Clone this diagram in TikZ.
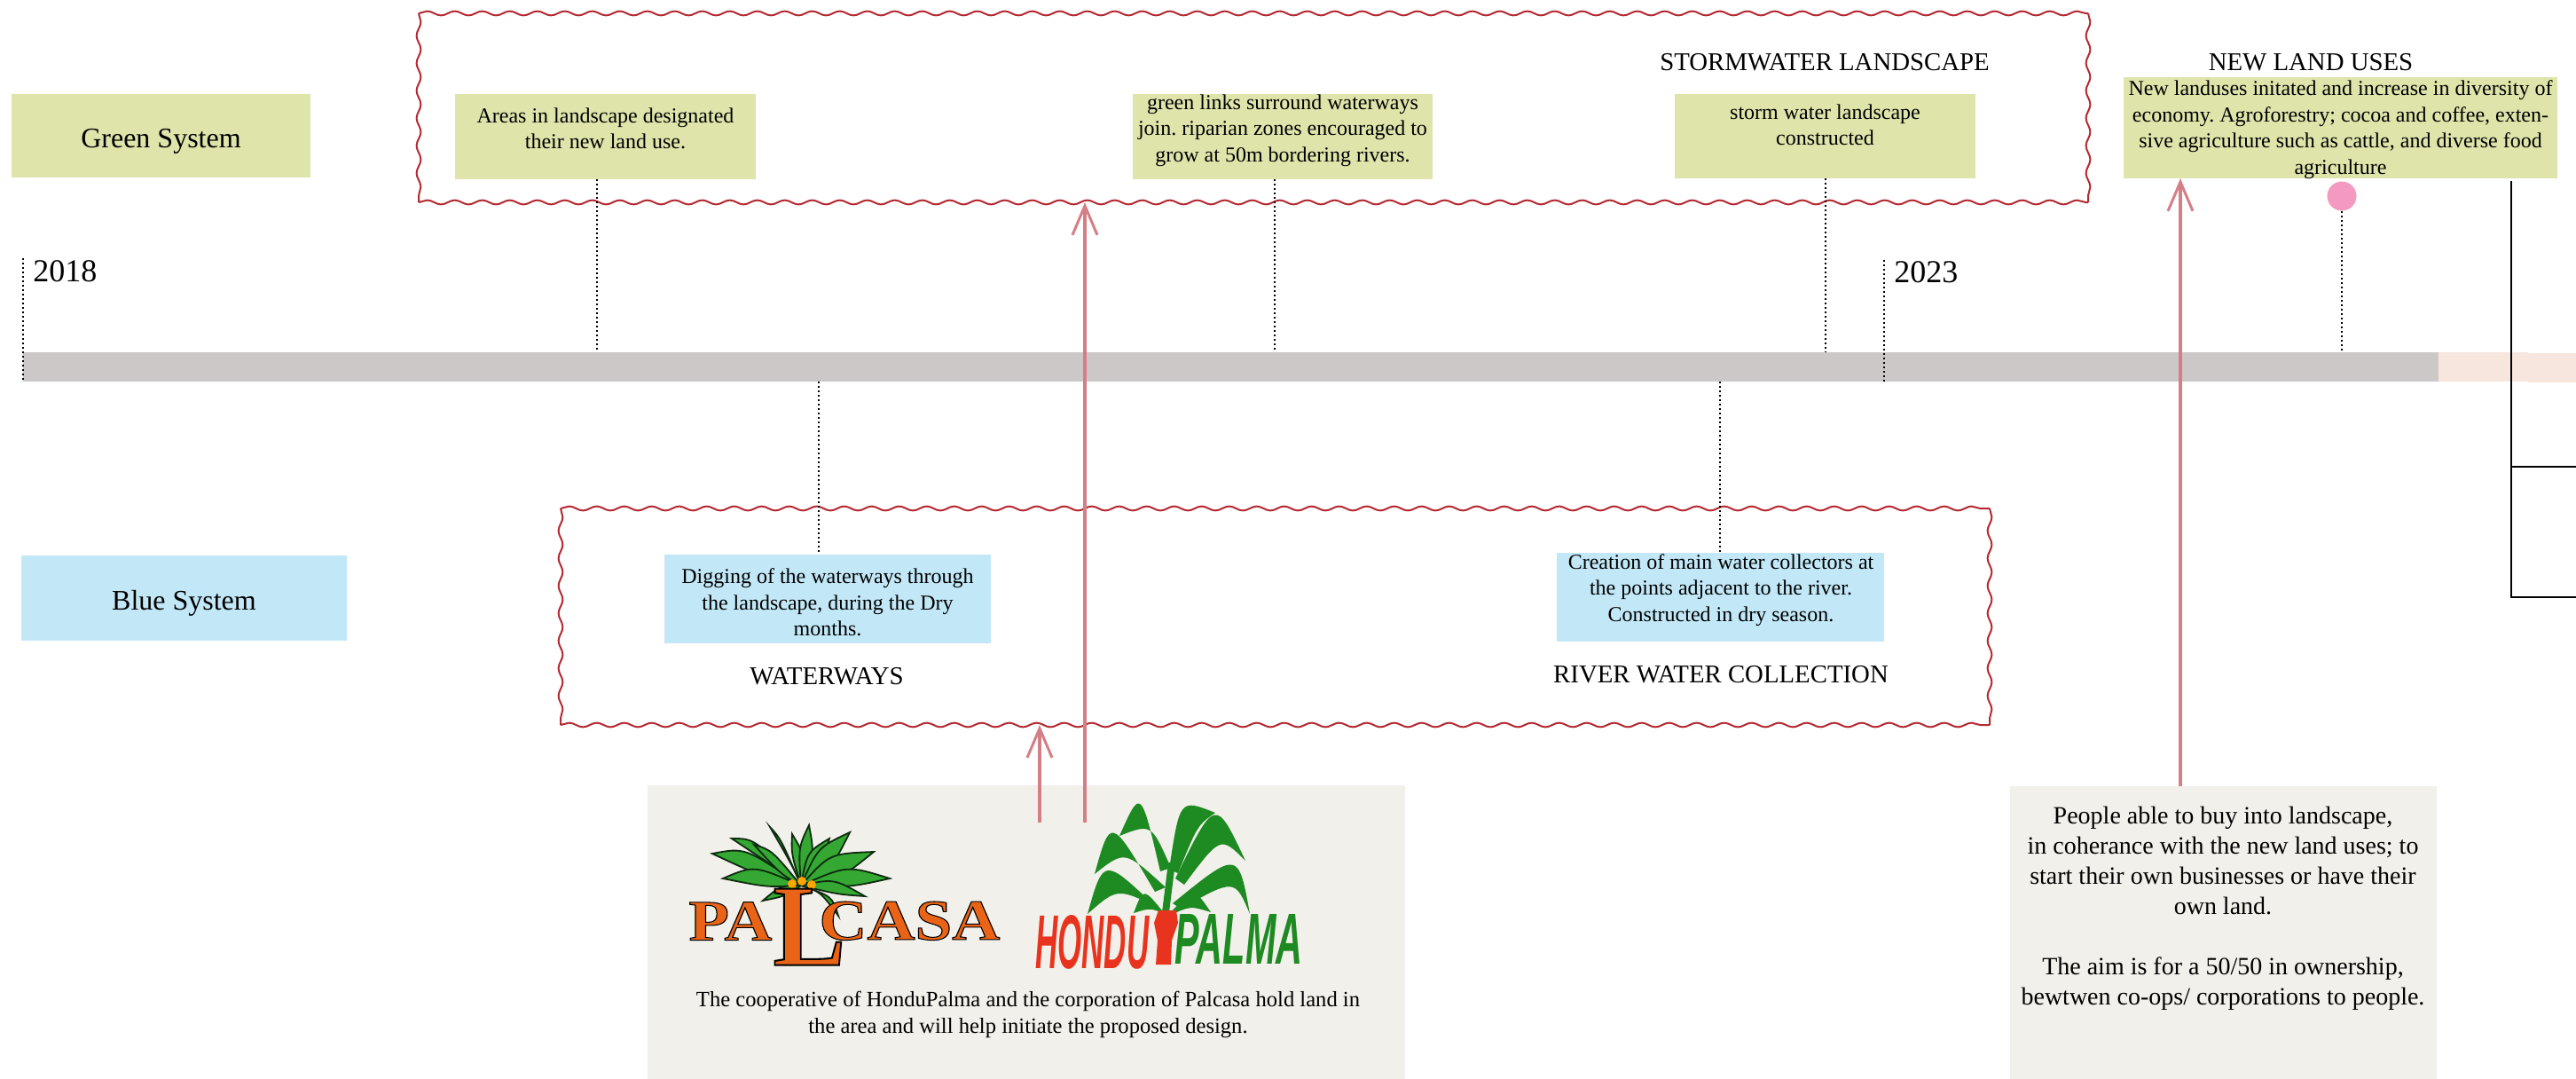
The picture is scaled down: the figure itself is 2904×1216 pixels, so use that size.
\documentclass[tikz,border=0pt]{standalone}
\usepackage{fontspec}
\setmainfont{Liberation Serif}
\newfontfamily\logosans{Liberation Sans}
\usetikzlibrary{decorations.pathmorphing,arrows.meta}
\definecolor{gfill}{HTML}{DFE4AA}
\definecolor{bfill}{HTML}{C2E8F8}
\definecolor{grayfill}{HTML}{F1F0EA}
\definecolor{barg}{HTML}{CDC8C8}
\definecolor{barp}{HTML}{F7E6DE}
\definecolor{wavy}{HTML}{B52A32}
\definecolor{arrowred}{HTML}{D47F86}
\definecolor{pinkdot}{HTML}{F49AC1}
\definecolor{palorange}{HTML}{EA6418}
\definecolor{palleaf}{HTML}{34A832}
\definecolor{palleafdark}{HTML}{0E2A10}
\definecolor{hpgreen}{HTML}{1E8A22}
\definecolor{hpred}{HTML}{E8341E}
\newcommand\outlinedword[1]{\special{pdf:literal direct 2 Tr 0.5 w 0 0 0 RG}#1\special{pdf:literal direct 0 Tr}}
\frenchspacing
\begin{document}
\begin{tikzpicture}[x=0.5pt,y=-0.5pt,
  gbox/.style={fill=gfill,inner sep=0pt,outer sep=0pt},
  bbox/.style={fill=bfill,inner sep=0pt,outer sep=0pt},
  greybox/.style={fill=grayfill,inner sep=0pt,outer sep=0pt},
  bodytext/.style={inner sep=0pt,align=center,font=\fontsize{12pt}{14.75pt}\selectfont},
  headtext/.style={inner sep=0pt,font=\fontsize{14.4pt}{17pt}\selectfont},
  systext/.style={inner sep=0pt,font=\fontsize{16pt}{19pt}\selectfont},
  yeartext/.style={inner sep=0pt,anchor=west,font=\fontsize{18pt}{21pt}\selectfont},
  logotext/.style={anchor=south west,inner sep=0pt,text=palorange,font=\fontsize{32pt}{32pt}\selectfont\bfseries},
  wavyside/.style={draw=wavy,line width=1pt,decorate,
     decoration={snake,segment length=15.5pt,amplitude=1.2pt}},
  dotline/.style={draw=black,line width=0.7pt,dash pattern=on 1pt off 1.5pt},
  redarrow/.style={draw=arrowred,line width=2pt,
     -{Straight Barb[length=16.5pt,width=14pt,line width=1.5pt]}},
  leafA/.style={fill=palleaf,draw=palleafdark,line width=0.9pt},
  leafB/.style={fill=hpgreen}
]
\useasboundingbox (0,0) rectangle (2904,1216);

% timeline bar
\node[fill=barg,inner sep=0pt,minimum width=1361.5pt,minimum height=16.5pt] (bar) at (1387.5,413.5) {};
\fill[barp] (2749,397) rectangle (2850,430);
\fill[barp] (2849,398) rectangle (2904,431);

% wavy frames
\coordinate (tfa) at (472,15);
\coordinate (tfb) at (2354,15);
\coordinate (tfc) at (2354,228);
\coordinate (tfd) at (472,228);
\draw[wavyside] (tfa) -- (tfb);
\draw[wavyside] (tfb) -- (tfc);
\draw[wavyside] (tfd) -- (tfc);
\draw[wavyside] (tfa) -- (tfd);
\coordinate (bfa) at (632,573);
\coordinate (bfb) at (2243,573);
\coordinate (bfc) at (2243,817);
\coordinate (bfd) at (632,817);
\draw[wavyside] (bfa) -- (bfb);
\draw[wavyside] (bfb) -- (bfc);
\draw[wavyside] (bfd) -- (bfc);
\draw[wavyside] (bfa) -- (bfd);

% system labels
\node[gbox,minimum width=168.5pt,minimum height=47pt] (green) at (181.5,153) {};
\node[systext] (greenT) at (181.5,159) {Green System};
\node[bbox,minimum width=183.5pt,minimum height=48pt] (blue) at (207.5,674) {};
\node[systext] (blueT) at (207.5,680) {Blue System};

% years
\coordinate (y18) at (26,291);
\coordinate (y23) at (2124,293);
\draw[dotline] (y18) -- (y18 |- bar.south);
\draw[dotline] (y23) -- (y23 |- bar.south);
\node[yeartext] (t2018) at (37,306) {2018};
\node[yeartext] (t2023) at (2135,307) {2023};

% green system boxes
\node[gbox,minimum width=169.5pt,minimum height=48pt] (areas) at (682.5,154) {};
\node[bodytext] (areasT) at (682.5,145) {Areas in landscape designated\\their new land use.};
\node[gbox,minimum width=169pt,minimum height=48pt] (links) at (1446,154) {};
\node[bodytext] (linksT) at (1446,147) {green links surround waterways\\join. riparian zones encouraged to\\grow at 50m bordering rivers.};
\node[gbox,minimum width=169.5pt,minimum height=47.5pt] (storm) at (2057.5,153.5) {};
\node[bodytext] (stormT) at (2057.5,141) {storm water landscape\\constructed};
\node[headtext] (stormH) at (2057,70) {STORMWATER LANDSCAPE};
\node[gbox,minimum width=244.5pt,minimum height=57pt] (newland) at (2638.5,144) {};
\node[bodytext] (newlandT) at (2638.5,146) {New landuses initated and increase in diversity of\\economy. Agroforestry; cocoa and coffee, exten-\\sive agriculture such as cattle, and diverse food\\agriculture};
\node[headtext] (newlandH) at (2605,70) {NEW LAND USES};
\node[circle,fill=pinkdot,inner sep=0pt,minimum size=16.5pt] (dot) at (2640,221) {};

% blue system boxes
\node[bbox,minimum width=184pt,minimum height=50pt] (digging) at (933,675) {};
\node[bodytext] (diggingT) at (933,679) {Digging of the waterways through\\the landscape, during the Dry\\months.};
\node[headtext] (waterH) at (932,762) {WATERWAYS};
\node[bbox,minimum width=184.5pt,minimum height=50pt] (creation) at (1939.5,673) {};
\node[bodytext] (creationT) at (1940,665) {Creation of main water collectors at\\the points adjacent to the river.\\Constructed in dry season.};
\node[headtext] (riverH) at (1940,760) {RIVER WATER COLLECTION};

% dotted connectors
\coordinate (xa) at (673,0);
\coordinate (xl) at (1437,0);
\coordinate (xs) at (2058,0);
\coordinate (xw) at (923,0);
\coordinate (xc) at (1939,0);
\draw[dotline] (xa |- areas.south) -- (xa |- bar.north);
\draw[dotline] (xl |- links.south) -- (xl |- bar.north);
\draw[dotline] (xs |- storm.south) -- (xs |- bar.north);
\draw[dotline] (dot.south) -- (dot.south |- bar.north);
\draw[dotline] (xw |- bar.south) -- (xw |- digging.north);
\draw[dotline] (xc |- bar.south) -- (xc |- creation.north);

% right black lines
\coordinate (k1) at (2831,204);
\coordinate (k2) at (2831,673);
\coordinate (k3) at (2904,673);
\coordinate (k4) at (2831,526);
\coordinate (k5) at (2904,526);
\draw[line width=1pt] (k1) -- (k2) -- (k3);
\draw[line width=1pt] (k4) -- (k5);

% bottom boxes
\node[greybox,minimum width=427pt,minimum height=165.5pt] (palc) at (1157,1050.5) {};
\node[inner sep=0pt,align=center,font=\fontsize{12.3pt}{15pt}\selectfont] (palcT) at (1159,1143) {The cooperative of HonduPalma and the corporation of Palcasa hold land in\\the area and will help initiate the proposed design.};
\node[greybox,minimum width=240.5pt,minimum height=165pt] (people) at (2506.5,1051) {};
\node[inner sep=0pt,align=center,font=\fontsize{14pt}{17pt}\selectfont] (peopleT) at (2506,1024) {People able to buy into landscape,\\in coherance with the new land uses; to\\start their own businesses or have their\\own land.\\[17pt]The aim is for a 50/50 in ownership,\\bewtwen co-ops/ corporations to people.};

% PALCASA logo
\coordinate (pc) at (903,998);
\foreach \tx/\ty/\ax/\ay/\bx/\by in {
  803/962/840/955/852/985, 815/990/850/975/865/1000, 825/945/850/945/870/975,
  850/952/870/958/880/985, 868/932/880/945/893/975, 893/940/892/962/908/965,
  912/930/900/955/918/962, 935/945/910/960/928/972, 958/938/922/955/938/978,
  985/960/935/962/948/990, 1003/990/955/975/958/1000, 975/1010/940/990/945/1008,
  945/1032/925/1005/938/1010, 860/1015/880/998/885/1010}
  \filldraw[leafA] (pc) .. controls (\ax,\ay) .. (\tx,\ty) .. controls (\bx,\by) .. (pc);
\fill[orange!70!yellow] (893,996) circle (5) (904,993) circle (5) (915,997) circle (5);
\node[logotext] (pa) at (776,1060) {\resizebox{47pt}{21.5pt}{\outlinedword{PA}}};
\node[logotext] (casa) at (923,1060) {\resizebox{102pt}{21.5pt}{\outlinedword{CASA}}};
\node[logotext] (bigL) at (871,1088) {\resizebox{41pt}{43pt}{\outlinedword{L}}};

% HONDUPALMA logo
\fill[hpgreen] (1310,1028) -- (1317,972) -- (1325,972) -- (1318,1028) -- cycle;
\foreach \ba/\bb/\tx/\ty/\ox/\oy/\ix/\iy/\ca/\cb in {
  1308/982/1262/942/1286/888/1298/928/1320/978,
  1318/980/1370/916/1330/900/1350/930/1328/984,
  1302/1005/1234/985/1252/920/1268/958/1314/1000,
  1325/990/1404/970/1370/898/1376/942/1335/997,
  1303/1022/1226/1030/1244/966/1260/1000/1311/1026,
  1322/1018/1409/1030/1396/958/1392/990/1331/1024,
  1313/1030/1278/1029/1289/1000/1297/1023/1315/1031,
  1318/1030/1365/1028/1346/1000/1342/1021/1320/1031}
  \fill[leafB] (\ba,\bb) .. controls (\ox,\oy) .. (\tx,\ty) .. controls (\ix,\iy) .. (\ca,\cb) -- cycle;
\fill[hpred] (1306,1026) -- (1326,1026) -- (1328,1040) -- (1321,1060) -- (1320,1087) -- (1303,1087) -- (1305,1060) -- (1301,1040) -- cycle;
\node[anchor=south west,inner sep=0pt,text=hpred] (hondu) at (1167,1093) {\resizebox{64pt}{30pt}{\logosans\bfseries\itshape HONDU}};
\node[anchor=south west,inner sep=0pt,text=hpgreen] (palma) at (1324,1087) {\resizebox{72pt}{28pt}{\logosans\bfseries\itshape PALMA}};

% red arrows
\coordinate (a1) at (1223,927);
\coordinate (a2) at (1172,927);
\coordinate (a3) at (2458,886);
\draw[redarrow] (a1) -- (a1 |- tfd);
\draw[redarrow] (a2) -- (a2 |- bfd);
\draw[redarrow] (a3) -- (a3 |- newland.south);
\end{tikzpicture}
\end{document}
